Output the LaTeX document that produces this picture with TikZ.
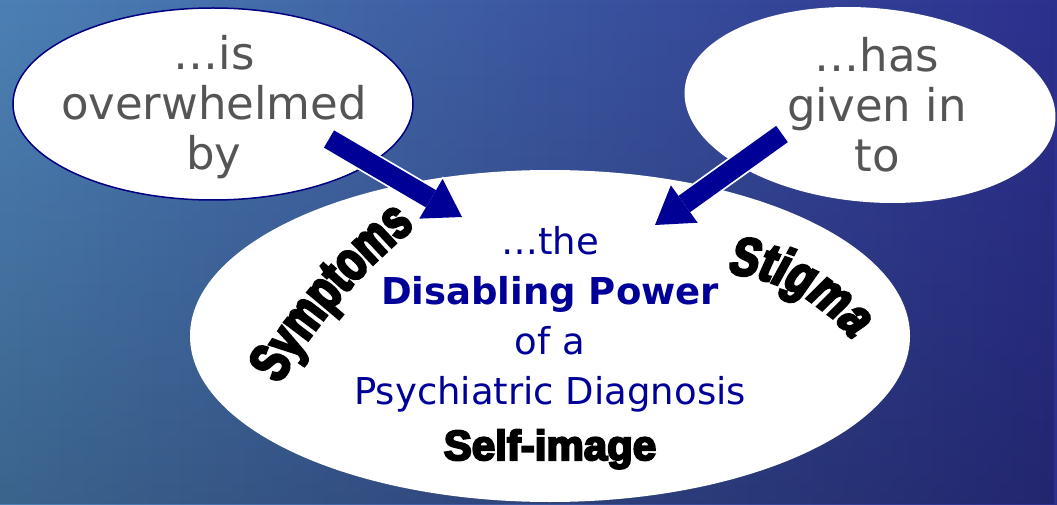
\documentclass[tikz,border=0pt]{standalone}
\usepackage{fontspec}
\setmainfont{DejaVu Sans}
\newfontfamily\heavyfont{Liberation Sans Bold}[FakeBold=5]
\newfontfamily\symfont{Liberation Sans Bold}[FakeBold=5,FakeStretch=0.73]
\newfontfamily\stigfont{Liberation Sans Bold}[FakeBold=5,FakeStretch=0.8,FakeSlant=0.15]
\usetikzlibrary{shapes.geometric,arrows.meta,decorations.text,fadings}
\definecolor{sealeft}{RGB}{76,128,180}
\definecolor{seamid}{RGB}{68,90,170}
\definecolor{searight}{RGB}{44,48,142}
\definecolor{edgeblue}{RGB}{0,0,128}
\definecolor{arrowblue}{RGB}{0,0,150}
\definecolor{powerblue}{RGB}{0,0,153}
\definecolor{verbgray}{RGB}{85,85,85}
\tikzset{
bubble/.style={ellipse, fill=white, inner sep=0pt},
verbtext/.style={text=verbgray, align=center, font=\fontsize{45}{50}\selectfont},
powertext/.style={text=powerblue, align=center, font=\fontsize{37}{50}\selectfont},
blockarrow/.style={draw=arrowblue, line width=20pt,
	-{Triangle[length=36pt,width=46pt,line width=0pt]},
	preaction={draw=white, line width=23.5pt, shorten >=-2pt,
	-{Triangle[length=39pt,width=51pt,line width=0pt]}}}
}

\begin{document}
\begin{tikzpicture}[x=1pt, y=1pt]
	\useasboundingbox (0,0) rectangle (1057,504);
	% sea
	\fill[left color=sealeft, middle color=seamid, right color=searight] (0,0) rectangle (1057,504);
	\fill[black, opacity=0.22, path fading=north] (0,0) rectangle (1057,504);

	\node[bubble, draw=edgeblue, line width=1.5pt, minimum width=400pt, minimum height=192pt] (overEll) at (213,400) {};
	\node[bubble, rotate=-5, minimum width=372pt, minimum height=194pt] (givenEll) at (870,399) {};
	\node[bubble, minimum width=720pt, minimum height=332pt] (mainEll) at (550,168) {};

	\coordinate (symTail) at (329,365);
	\coordinate (symTip) at (462,287);
	\coordinate (stigTail) at (782,370);
	\coordinate (stigTip) at (655,279);
	\draw[blockarrow] (symTail) -- (symTip);
	\draw[blockarrow] (stigTail) -- (stigTip);

	\node[verbtext] (overTxt) at (214,397) {…is\\overwhelmed\\by};
	\node[verbtext] (givenTxt) at (877,399) {…has\\given in\\to};
	\node[powertext] (powerTxt) at (550,185) {…the\\\textbf{Disabling Power}\\of a\\Psychiatric Diagnosis};

	\path[decorate, decoration={text along path, text align=center,
		text={|\symfont\fontsize{56}{56}\selectfont|Symptoms}}]
		([shift={(153:578)}]778,-173) arc[start angle=153, end angle=125.5, radius=578];
	\path[decorate, decoration={text along path, text align=center,
		text={|\stigfont\fontsize{54}{54}\selectfont|Stigma}}]
		([shift={(100:176)}]714,55) arc[start angle=100, end angle=25, radius=176];
	\node[font=\heavyfont\fontsize{42}{42}\selectfont, anchor=base] (selfTxt) at (550,44) {Self-image};
\end{tikzpicture}
\end{document}
